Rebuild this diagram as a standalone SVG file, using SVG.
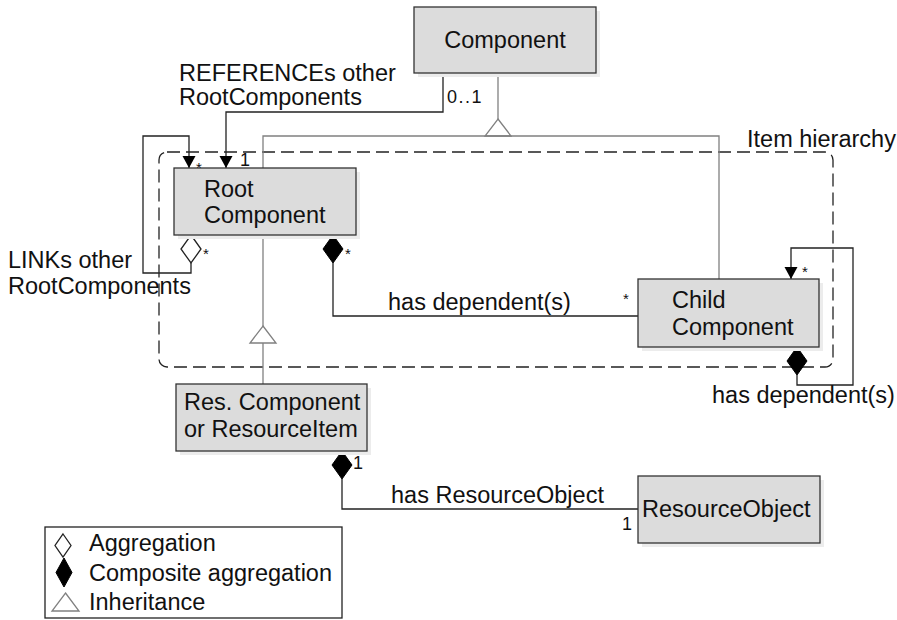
<svg xmlns="http://www.w3.org/2000/svg" width="897" height="620" viewBox="0 0 897 620">
  <style>
    text { font-family: "Liberation Sans", Arial, sans-serif; fill: #111; }
    .lbl { font-size: 23.5px; }
    .mult { font-size: 15px; }
    .num { font-size: 18px; }
    .box { fill: #dcdcdc; stroke: #333; stroke-width: 1.3; }
    .shadow { fill: #ececec; stroke: none; }
    .assoc { fill: none; stroke: #222; stroke-width: 1.3; }
    .inh { fill: none; stroke: #808080; stroke-width: 1.3; }
    .tri { fill: #fff; stroke: #808080; stroke-width: 1.3; }
    .dia-open { fill: #fff; stroke: #222; stroke-width: 1.3; }
    .dia-full { fill: #000; stroke: #000; stroke-width: 1; }
    .frame { fill: none; stroke: #222; stroke-width: 1.3; stroke-dasharray: 13 6; }
  </style>
  <defs>
    <marker id="arrow" markerUnits="userSpaceOnUse" markerWidth="13" markerHeight="14" refX="12" refY="7" orient="auto">
      <path d="M0,0.5 L12,7 L0,13.5 Z" fill="#000"/>
    </marker>
    <!-- diamond with its top point at the origin -->
    <path id="diamond" d="M0,0 L10,14 L0,28 L-10,14 Z"/>
    <!-- hollow inheritance triangle, apex at the origin -->
    <path id="triangle" d="M0,0 L13,17 L-13,17 Z"/>
  </defs>

  <!-- package frame -->
  <g id="item-hierarchy">
    <rect class="frame" x="159" y="152" width="674" height="215" rx="8"/>
    <text class="lbl" x="747" y="147">Item hierarchy</text>
  </g>

  <!-- connectors -->
  <g id="connectors">
    <!-- REFERENCEs: Component to Root Component -->
    <polyline class="assoc" points="443,73 443,112 226,112 226,168" marker-end="url(#arrow)"/>
    <!-- generalisation to Component -->
    <polyline class="inh" points="498,73 498,119"/>
    <use href="#triangle" class="tri" x="498" y="119"/>
    <polyline class="inh" points="263,168 263,136 719,136 719,279"/>
    <!-- LINKs self-association -->
    <use href="#diamond" class="dia-open" x="191" y="235"/>
    <polyline class="assoc" points="191,263 191,273 143,273 143,136 189,136 189,168" marker-end="url(#arrow)"/>
    <!-- Root has dependent(s) Child -->
    <use href="#diamond" class="dia-full" x="333" y="235"/>
    <polyline class="assoc" points="333,263 333,316 638,316"/>
    <!-- generalisation Res. Component to Root Component -->
    <polyline class="inh" points="263,235 263,326"/>
    <use href="#triangle" class="tri" x="263" y="326"/>
    <polyline class="inh" points="263,343 263,384"/>
    <!-- Child has dependent(s) self loop -->
    <use href="#diamond" class="dia-full" x="797" y="347"/>
    <polyline class="assoc" points="797,375 797,385 853,385 853,248 791,248 791,279" marker-end="url(#arrow)"/>
    <!-- has ResourceObject -->
    <use href="#diamond" class="dia-full" x="342" y="451"/>
    <polyline class="assoc" points="342,479 342,509 638,509"/>

    <!-- connector labels -->
    <text class="lbl" x="179" y="81">REFERENCEs other</text>
    <text class="lbl" x="179" y="105">RootComponents</text>
    <text class="num" x="447" y="103" letter-spacing="1.5">0..1</text>
    <text class="mult" x="196" y="173">*</text>
    <text class="num" x="240" y="166">1</text>
    <text class="lbl" x="8" y="268">LINKs other</text>
    <text class="lbl" x="8" y="294">RootComponents</text>
    <text class="mult" x="203" y="259">*</text>
    <text class="mult" x="345" y="259">*</text>
    <text class="lbl" x="388" y="310">has dependent(s)</text>
    <text class="mult" x="623" y="304">*</text>
    <text class="mult" x="802" y="277">*</text>
    <text class="lbl" x="712" y="403">has dependent(s)</text>
    <text class="num" x="353" y="469">1</text>
    <text class="lbl" x="391" y="503">has ResourceObject</text>
    <text class="num" x="622" y="530">1</text>
  </g>

  <!-- classes -->
  <g id="component">
    <rect class="shadow" x="418" y="11" width="182" height="66"/>
    <rect class="box" x="414" y="7" width="182" height="66"/>
    <text class="lbl" x="505" y="48" text-anchor="middle">Component</text>
  </g>
  <g id="root-component">
    <rect class="shadow" x="178" y="172" width="182" height="67"/>
    <rect class="box" x="174" y="168" width="182" height="67"/>
    <text class="lbl" x="204" y="197">Root</text>
    <text class="lbl" x="204" y="223">Component</text>
  </g>
  <g id="child-component">
    <rect class="shadow" x="642" y="283" width="181" height="68"/>
    <rect class="box" x="638" y="279" width="181" height="68"/>
    <text class="lbl" x="672" y="308">Child</text>
    <text class="lbl" x="672" y="335">Component</text>
  </g>
  <g id="res-component">
    <rect class="shadow" x="180" y="388" width="191" height="67"/>
    <rect class="box" x="176" y="384" width="191" height="67"/>
    <text class="lbl" x="184" y="410">Res. Component</text>
    <text class="lbl" x="184" y="437">or ResourceItem</text>
  </g>
  <g id="resource-object">
    <rect class="shadow" x="642" y="480" width="182" height="67"/>
    <rect class="box" x="638" y="476" width="182" height="67"/>
    <text class="lbl" x="642" y="517">ResourceObject</text>
  </g>

  <!-- legend -->
  <g id="legend">
    <rect x="45" y="527" width="297" height="91" fill="#fff" stroke="#222" stroke-width="1.3"/>
    <path d="M63,534 L71,545.5 L63,557 L55,545.5 Z" class="dia-open"/>
    <path d="M64,558 L72,572.5 L64,587 L56,572.5 Z" class="dia-full"/>
    <path d="M65.5,593 L79,611 L52,611 Z" class="tri"/>
    <text class="lbl" x="89" y="551">Aggregation</text>
    <text class="lbl" x="89" y="581">Composite aggregation</text>
    <text class="lbl" x="89" y="610">Inheritance</text>
  </g>
</svg>
